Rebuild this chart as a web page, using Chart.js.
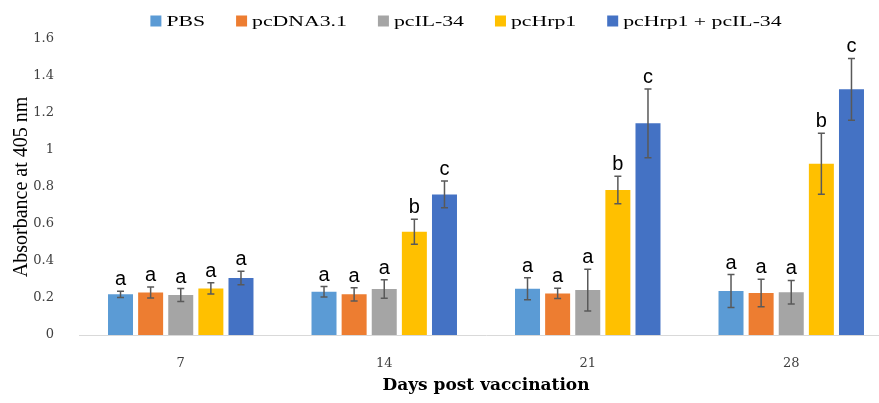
<!DOCTYPE html>
<html>
<head>
<meta charset="utf-8">
<script src="https://cdn.jsdelivr.net/npm/chart.js@4.4.1/dist/chart.umd.min.js"></script>
<style>
  html, body { margin: 0; padding: 0; overflow: hidden; background: #fff; }
  #wrap { width: 896px; height: 403px; position: relative; }
</style>
</head>
<body>
<div id="wrap"><canvas id="mainChart"></canvas></div>
<script>
// Days post vaccination
var days = ["7", "14", "21", "28"];
var yTicks = [0, 0.2, 0.4, 0.6, 0.8, 1, 1.2, 1.4, 1.6];

var groupNames = ["PBS", "pcDNA3.1", "pcIL-34", "pcHrp1", "pcHrp1 + pcIL-34"];
var groupColors = ["#5B9BD5", "#ED7D31", "#A5A5A5", "#FFC000", "#4472C4"];

// mean absorbance
var pbs      = [0.22, 0.234, 0.25, 0.238];
var pcdna    = [0.23, 0.22, 0.225, 0.227];
var pcil34   = [0.216, 0.249, 0.243, 0.231];
var pchrp1   = [0.252, 0.558, 0.784, 0.926];
var combo    = [0.308, 0.76, 1.144, 1.328];

// error (+/-)
var pbsErr    = [0.017, 0.028, 0.06, 0.089];
var pcdnaErr  = [0.03, 0.036, 0.028, 0.074];
var pcil34Err = [0.035, 0.05, 0.113, 0.064];
var pchrp1Err = [0.03, 0.068, 0.074, 0.165];
var comboErr  = [0.036, 0.072, 0.186, 0.167];

// significance letters
var pbsSig    = ["a", "a", "a", "a"];
var pcdnaSig  = ["a", "a", "a", "a"];
var pcil34Sig = ["a", "a", "a", "a"];
var pchrp1Sig = ["a", "b", "b", "b"];
var comboSig  = ["a", "c", "c", "c"];

var values = [pbs, pcdna, pcil34, pchrp1, combo];
var errors = [pbsErr, pcdnaErr, pcil34Err, pchrp1Err, comboErr];
var letters = [pbsSig, pcdnaSig, pcil34Sig, pchrp1Sig, comboSig];

// error bars + letters
var errorBarPlugin = {
    id: 'errorBars',
    afterDatasetsDraw: function (chart) {
        var ctx = chart.ctx;
        var yScale = chart.scales.y;
        ctx.save();
        chart.data.datasets.forEach(function (ds, di) {
            var meta = chart.getDatasetMeta(di);
            meta.data.forEach(function (bar, i) {
                var v = ds.data[i], e = ds.errors[i];
                var top = yScale.getPixelForValue(v + e);
                var bot = yScale.getPixelForValue(v - e);
                ctx.strokeStyle = "#595959";
                ctx.lineWidth = 1.5;
                ctx.beginPath();
                ctx.moveTo(bar.x, top); ctx.lineTo(bar.x, bot);
                ctx.moveTo(bar.x - 3.5, top); ctx.lineTo(bar.x + 3.5, top);
                ctx.moveTo(bar.x - 3.5, bot); ctx.lineTo(bar.x + 3.5, bot);
                ctx.stroke();
                ctx.fillStyle = "#000";
                ctx.font = '20px "Liberation Sans"';
                ctx.textAlign = "center";
                ctx.textBaseline = "alphabetic";
                ctx.fillText(ds.letters[i], bar.x, top - 6);
            });
        });
        ctx.restore();
    }
};

// legend drawn by hand (the original text is stretched sideways)
var legendPlugin = {
    id: 'wideLegend',
    afterDraw: function (chart) {
        var ctx = chart.ctx;
        var stretch = 1.45, box = 11, gap = 5, spacing = 31, cy = 21, center = 466;
        ctx.save();
        ctx.font = '15px "Liberation Serif"';
        var widths = chart.data.datasets.map(function (ds) {
            return ctx.measureText(ds.label).width * stretch;
        });
        var total = 0;
        widths.forEach(function (w, i) { total += box + gap + w + (i > 0 ? spacing : 0); });
        var x = center - total / 2;
        chart.data.datasets.forEach(function (ds, i) {
            ctx.fillStyle = ds.backgroundColor;
            ctx.fillRect(x, cy - box / 2, box, box);
            ctx.save();
            ctx.translate(x + box + gap, cy);
            ctx.scale(stretch, 1);
            ctx.fillStyle = "#000";
            ctx.textBaseline = "middle";
            ctx.textAlign = "left";
            ctx.fillText(ds.label, 0, 1);
            ctx.restore();
            x += box + gap + widths[i] + spacing;
        });
        ctx.restore();
    }
};

var ctx = document.getElementById('mainChart');

var chartData = {
    labels: days,
    datasets: groupNames.map(function (name, i) {
        return {
            label: name,
            data: values[i],
            errors: errors[i],
            letters: letters[i],
            backgroundColor: groupColors[i],
            borderWidth: 0,
            categoryPercentage: 0.74,
            barPercentage: 0.83
        };
    })
};

var chartOptions = {
    responsive: true,
    maintainAspectRatio: false,
    animation: false,
    layout: {
        padding: { top: 39, right: 3, bottom: 0, left: 0 }
    },
    plugins: {
        legend: { display: false },
        tooltip: { enabled: false }
    },
    scales: {
        x: {
            grid: { display: false },
            border: { display: true, color: "#d9d9d9", width: 1 },
            ticks: {
                color: "#404040",
                padding: 13,
                font: { family: "DejaVu Serif", size: 13 }
            },
            title: {
                display: true,
                text: "Days post vaccination",
                color: "#000",
                padding: { top: 0, bottom: 7 },
                font: { family: "DejaVu Serif", size: 17, weight: "bold" }
            },
            afterFit: function (s) { s.height = 68; }
        },
        y: {
            min: 0,
            max: 1.6,
            grid: { display: false },
            border: { display: false },
            afterBuildTicks: function (s) {
                s.ticks = yTicks.map(function (v) { return { value: v }; });
            },
            ticks: {
                color: "#404040",
                padding: 17,
                font: { family: "DejaVu Serif", size: 13 },
                callback: function (v) { return String(Math.round(v * 10) / 10); }
            },
            title: {
                display: true,
                text: "Absorbance at 405 nm",
                color: "#000",
                padding: { top: 10, bottom: 0 },
                font: { family: "Liberation Serif", size: 20 }
            },
            afterFit: function (s) { s.width = 79; }
        }
    }
};

new Chart(ctx, {
    type: 'bar',
    data: chartData,
    options: chartOptions,
    plugins: [errorBarPlugin, legendPlugin]
});
</script>
</body>
</html>
